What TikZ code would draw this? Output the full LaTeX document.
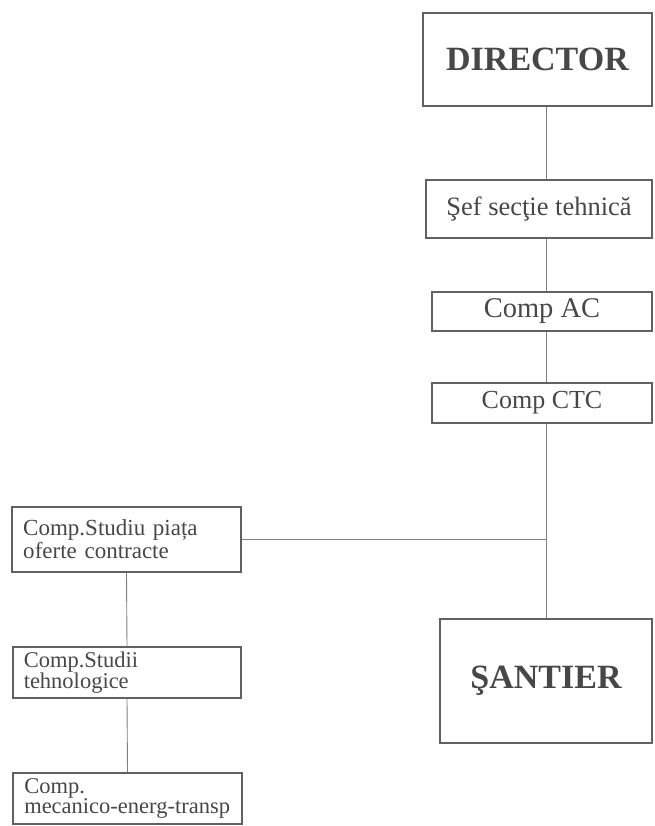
\documentclass[tikz,border=0pt]{standalone}
\usepackage{fontspec}
\setmainfont{Liberation Serif}
\usetikzlibrary{positioning}

\begin{document}
\begin{tikzpicture}[x=1pt, y=-1pt]
\tikzset{BoxStyle/.style = {shape=rectangle, draw=black!62, line width=1.6pt, inner sep=0pt, text=black!72}}
\tikzset{LeftBoxStyle/.style = {BoxStyle, align=left, inner xsep=11pt, text width=206.5pt}}
\tikzset{EdgeStyle/.style = {draw=black!50, line width=0.9pt}}
	\useasboundingbox (0,0) rectangle (654,826);
	\coordinate (spine) at (546,0);

	\node[BoxStyle, minimum width=229pt, minimum height=93pt, font=\fontsize{34}{36}\selectfont\bfseries] (director) at (537.5,59.5) {DIRECTOR};
	\node[BoxStyle, minimum width=226pt, minimum height=58pt, font=\fontsize{26.5}{30}\selectfont] (sef) at (539,209) {Şef secţie tehnică};
	\node[BoxStyle, minimum width=220pt, minimum height=39pt, font=\fontsize{28.5}{30}\selectfont] (compac) at (542,311.5) {Comp AC};
	\node[BoxStyle, minimum width=220pt, minimum height=40pt, font=\fontsize{26}{30}\selectfont] (compctc) at (542,403) {Comp CTC};
	\node[BoxStyle, minimum width=212pt, minimum height=124pt, font=\fontsize{34}{36}\selectfont\bfseries] (santier) at (546,681) {ŞANTIER};

	\node[LeftBoxStyle, minimum height=65pt, font=\fontsize{23}{23}\selectfont] (studiu) at (126.5,539.5) {Comp.Studiu piața\\oferte contracte};
	\node[LeftBoxStyle, minimum height=51pt, font=\fontsize{22.5}{15}\selectfont] (studii) at (127,672.5) {Comp.Studii\\tehnologice};
	\node[LeftBoxStyle, minimum height=51pt, font=\fontsize{22.5}{19}\selectfont] (mecanico) at (127.5,798.5) {Comp.\\mecanico-energ-transp};

	\draw[EdgeStyle] (director.south -| spine) -- (sef.north -| spine);
	\draw[EdgeStyle] (sef.south -| spine) -- (compac.north -| spine);
	\draw[EdgeStyle] (compac.south -| spine) -- (compctc.north -| spine);
	\draw[EdgeStyle] (compctc.south -| spine) -- (santier.north -| spine);
	\draw[EdgeStyle] (studiu.east) -- (studiu.east -| spine);
	\draw[EdgeStyle] (studiu.south) -- (studii.north);
	\draw[EdgeStyle] (studii.south) -- (mecanico.north);
\end{tikzpicture}
\end{document}
